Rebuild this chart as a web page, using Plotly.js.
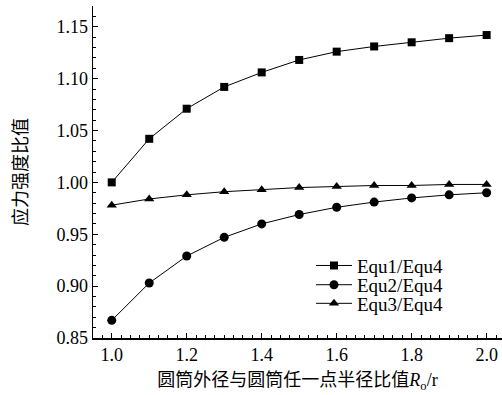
<!DOCTYPE html>
<html>
<head>
<meta charset="utf-8">
<script src="https://cdn.plot.ly/plotly-3.0.1.min.js"></script>
<style>
  html, body { margin: 0; padding: 0; background: #fff; }
  #chart { width: 502px; height: 395px; }
  #fontprobe { position: absolute; left: 100px; top: 40px; font: 11px monospace; width: 380px;
               word-break: break-all; color: rgba(0,0,0,0); pointer-events: none; }
</style>
</head>
<body>
<div id="chart"></div>
<div id="fontprobe"></div>
<script>
// Outer-radius / point-radius ratio of the cylinder
const ratio = [1.0, 1.1, 1.2, 1.3, 1.4, 1.5, 1.6, 1.7, 1.8, 1.9, 2.0];

// Stress intensity ratios relative to Equ4
const equ1 = [1.000, 1.042, 1.071, 1.092, 1.106, 1.118, 1.126, 1.131, 1.135, 1.139, 1.142];
const equ2 = [0.867, 0.903, 0.929, 0.947, 0.960, 0.969, 0.976, 0.981, 0.985, 0.988, 0.990];
const equ3 = [0.978, 0.984, 0.988, 0.991, 0.993, 0.995, 0.996, 0.997, 0.997, 0.998, 0.998];

const seriesNames = ['Equ1/Equ4', 'Equ2/Equ4', 'Equ3/Equ4'];

const serif = 'Liberation Serif';
const cjk = 'Noto Sans CJK SC';

function series(y, name, symbol, size, legendId) {
  return {
    x: ratio, y: y, name: name, type: 'scatter', mode: 'lines+markers',
    line: { color: '#000', width: 1 },
    marker: { symbol: symbol, size: size, color: '#000', line: { width: 0 } },
    legend: legendId
  };
}

const traces = [
  series(equ1, seriesNames[0], 'square', 8, 'legend'),
  series(equ2, seriesNames[1], 'circle', 9, 'legend2'),
  series(equ3, seriesNames[2], 'triangle-up', 9, 'legend3')
];

// one legend per series so the rows sit close together
function legendAt(y) {
  return {
    x: 0.533, y: y, xanchor: 'left', yanchor: 'middle',
    bgcolor: 'rgba(0,0,0,0)', borderwidth: 0,
    font: { family: serif, size: 19, color: '#000' },
    itemwidth: 36
  };
}

const layout = {
  width: 502, height: 395,
  margin: { l: 93, r: 0, t: 6, b: 57 },
  paper_bgcolor: '#fff', plot_bgcolor: '#fff',
  font: { family: serif, size: 18, color: '#000' },
  showlegend: true,
  legend: legendAt(0.218),
  legend2: legendAt(0.160),
  legend3: legendAt(0.104),
  xaxis: {
    range: [0.95, 2.041],
    dtick: 0.2, tick0: 0, tickformat: '.1f',
    ticks: 'inside', ticklen: 5, tickwidth: 1.2, tickcolor: '#000',
    minor: { dtick: 0.025, tick0: 0, ticks: 'inside', ticklen: 3, tickwidth: 1, tickcolor: '#000' },
    showline: true, linecolor: '#000', linewidth: 1.5,
    showgrid: false, zeroline: false,
    tickfont: { family: serif, size: 18, color: '#000' },
    title: {
      text: '圆筒外径与圆筒任一点半径比值<span style="font-family:Liberation Serif"><i>R</i><sub>o</sub>/r</span>',
      font: { family: cjk, size: 18, color: '#000' },
      standoff: 8
    }
  },
  yaxis: {
    range: [0.85, 1.17],
    dtick: 0.05, tick0: 0, tickformat: '.2f',
    ticks: 'inside', ticklen: 5, tickwidth: 1.2, tickcolor: '#000',
    minor: { dtick: 0.01, tick0: 0, ticks: 'inside', ticklen: 3, tickwidth: 1, tickcolor: '#000' },
    showline: true, linecolor: '#000', linewidth: 1.5,
    showgrid: false, zeroline: false,
    tickfont: { family: serif, size: 18, color: '#000' },
    title: {
      text: '应力强度比值',
      font: { family: cjk, size: 18, color: '#000' },
      standoff: 24
    }
  }
};

Plotly.newPlot('chart', traces, layout, { displayModeBar: false, staticPlot: true }).then(function () {
  // read back the resolved tick font; writing it into the page forces a fresh text layout
  const t = document.querySelector('.ytick text');
  document.getElementById('fontprobe').textContent = t ? getComputedStyle(t).fontFamily : '';
});
</script>
</body>
</html>
